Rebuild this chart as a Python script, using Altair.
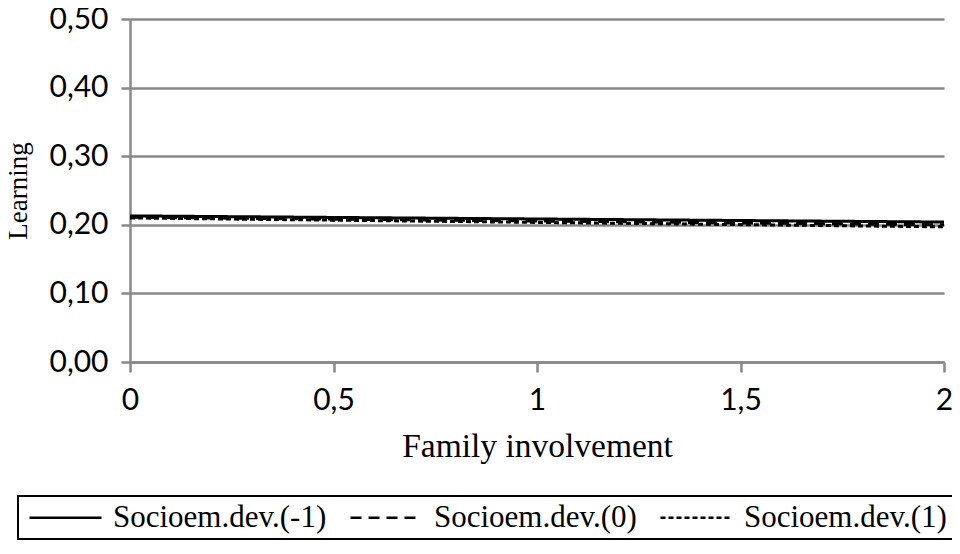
import altair as alt
import pandas as pd

# Data
family_involvement = [0, 2]
series_names = ["Socioem.dev.(-1)", "Socioem.dev.(0)", "Socioem.dev.(1)"]
learning_m1 = [0.213, 0.204]
learning_0 = [0.211, 0.200]
learning_p1 = [0.210, 0.197]

rows = []
for name, vals in zip(series_names, [learning_m1, learning_0, learning_p1]):
    for x, y in zip(family_involvement, vals):
        rows.append({"Family involvement": x, "Learning": y, "series": name})
df = pd.DataFrame(rows)

y_ticks = [0, 0.1, 0.2, 0.3, 0.4, 0.5]
x_ticks = [0, 0.5, 1, 1.5, 2]

chart = alt.Chart(df).mark_line(color="black", strokeWidth=3, clip=False).encode(
    x=alt.X(
        "Family involvement:Q",
        scale=alt.Scale(domain=[0, 2], nice=False),
        axis=alt.Axis(
            values=x_ticks,
            labelExpr="replace(toString(datum.value), '.', ',')",
            labelFlush=False,
            grid=False,
            domainColor="#888888",
            domainWidth=2.5,
            tickColor="#888888",
            tickWidth=2.5,
            tickSize=10,
            labelFont="Lato",
            labelFontSize=30,
            labelColor="black",
            labelPadding=13,
            title="Family involvement",
            titleFont="Liberation Serif",
            titleFontSize=33.5,
            titleFontWeight="normal",
            titleColor="black",
            titlePadding=15,
        ),
    ),
    y=alt.Y(
        "Learning:Q",
        scale=alt.Scale(domain=[0, 0.5], nice=False),
        axis=alt.Axis(
            values=y_ticks,
            labelExpr="replace(format(datum.value, '.2f'), '.', ',')",
            grid=True,
            gridColor="#888888",
            gridWidth=2.5,
            domainColor="#888888",
            domainWidth=2.5,
            tickColor="#888888",
            tickWidth=2.5,
            tickSize=9,
            labelFont="Lato",
            labelFontSize=30,
            labelColor="black",
            labelPadding=13,
            title="Learning",
            titleFont="Liberation Serif",
            titleFontSize=27,
            titleFontWeight="normal",
            titleColor="black",
            titlePadding=16,
        ),
    ),
    strokeDash=alt.StrokeDash(
        "series:N",
        scale=alt.Scale(domain=series_names, range=[[1, 0], [11, 7], [5, 3]]),
        legend=alt.Legend(
            title=None,
            orient="none",
            legendX=-112,
            legendY=477,
            direction="horizontal",
            symbolType="M-1,0H6.2",
            symbolSize=400,
            symbolStrokeWidth=2.5,
            symbolStrokeColor="black",
            labelFont="Liberation Serif",
            labelFontSize=31,
            labelColor="black",
            labelOffset=58,
            columnPadding=18,
            strokeColor="black",
            padding=6,
            labelLimit=400,
        ),
    ),
    detail="series:N",
).properties(
    width=814,
    height=343,
    autosize=alt.AutoSizeParams(type="none"),
    padding={"left": 122, "top": 11, "right": 8, "bottom": 181},
).configure_view(stroke=None).configure_legend(strokeWidth=2)

chart.save("out.html", embed_options={"renderer": "svg", "actions": False})
